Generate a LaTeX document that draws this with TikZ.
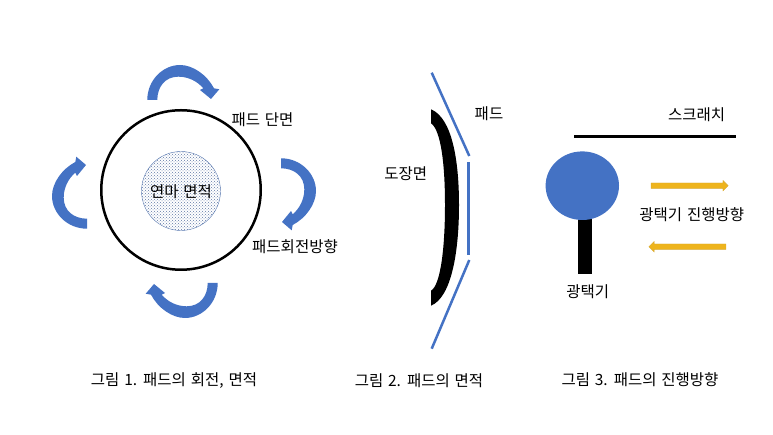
\documentclass[tikz,border=0pt]{standalone}
\usepackage{fontspec}
\setmainfont[WordSpace=1.4]{Noto Sans CJK KR}
\usetikzlibrary{patterns,shapes.geometric,shapes.arrows}
\definecolor{padblue}{HTML}{4472C4}
\definecolor{goyellow}{HTML}{EEB41C}
\tikzset{
 turnarrow/.pic={
  \fill[padblue] (-35.7,2) .. controls (-35.7,22) and (-20,37) .. (-3,37)
   .. controls (10,37) and (24,27) .. (31,13.7)
   -- (36.3,12.7) -- (28,3) -- (17,12) -- (20.3,13.7)
   .. controls (14,21) and (5,25.3) .. (-4.7,25.3)
   .. controls (-18,25.3) and (-25.7,15) .. (-25.7,2) -- cycle;
 }
}
\begin{document}
\begin{tikzpicture}[x=1pt,y=1pt]
 \tikzstyle{label}=[text=black,font=\fontsize{15.5}{18}\selectfont,inner sep=0pt]
 \tikzstyle{padline}=[padblue,line width=2.5pt]
 \tikzstyle{goarrow}=[single arrow,fill=goyellow,draw=goyellow!80!gray,line width=0.4pt,minimum height=77pt,single arrow head extend=2.5pt,single arrow head indent=0pt,inner sep=2.5pt]
 \useasboundingbox (0,0) rectangle (773,435);
 % pad, top view
 \node[circle,draw=black,line width=2.5pt,minimum size=159.5pt,inner sep=0pt] (padface) at (181,245) {};
 \node[circle,draw=padblue!70!gray,line width=0.4pt,pattern=crosshatch dots,pattern color=padblue!55!gray,minimum size=79pt,inner sep=0pt] (polisharea) at (181,244) {};
 \node[label] (polishlabel) at (181,243.5) {연마 면적};
 \node[label] (padlabel) at (262.5,315) {패드 단면};
 \node[label] (turnlabel) at (295,188.5) {패드회전방향};
 \pic at (183,333) {turnarrow};
 \pic[rotate=-90] at (279,241) {turnarrow};
 \pic[rotate=180] at (182,154) {turnarrow};
 \pic[rotate=90] at (89,242) {turnarrow};
 \node[label] (cap1) at (174,54) {그림 1. 패드의 회전, 면적};
 % painted surface and pad
 \fill[black] (431,325.7) .. controls (452,317) and (459,275) .. (459,230)
  .. controls (459,185) and (452,138) .. (431,129.3) -- (431,144.3)
  .. controls (441,150) and (445,190) .. (445,230)
  .. controls (445,270) and (441,305) .. (431,311.7) -- cycle;
 \coordinate (p1) at (431.7,362.3);
 \coordinate (p2) at (469.3,279);
 \coordinate (p3) at (468.7,272.7);
 \coordinate (p4) at (468.7,180);
 \coordinate (p5) at (469.3,175);
 \coordinate (p6) at (431.7,86.3);
 \draw[padline] (p1)--(p2);
 \draw[padline] (p3)--(p4);
 \draw[padline] (p5)--(p6);
 \node[label] (surfacelabel) at (405.7,261) {도장면};
 \node[label] (padlabel2) at (489,321) {패드};
 \node[label] (cap2) at (419,54) {그림 2. 패드의 면적};
 % polisher and scratch
 \coordinate (s1) at (574,298.3);
 \coordinate (s2) at (735.7,298.3);
 \draw[black,line width=3pt] (s1)--(s2);
 \fill[black] (578,161) rectangle (591.7,216);
 \node[ellipse,fill=padblue,minimum width=73.4pt,minimum height=68.6pt,inner sep=0pt] (polisher) at (582.3,249.3) {};
 \node[goarrow] (goright) at (688.3,249.3) {};
 \node[goarrow,shape border rotate=180] (goleft) at (688.8,188.3) {};
 \node[label] (scratchlabel) at (696.7,320) {스크래치};
 \node[label] (golabel) at (691.7,220) {광택기 진행방향};
 \node[label] (polisherlabel) at (587.7,143) {광택기};
 \node[label] (cap3) at (640,55) {그림 3. 패드의 진행방향};
\end{tikzpicture}
\end{document}
